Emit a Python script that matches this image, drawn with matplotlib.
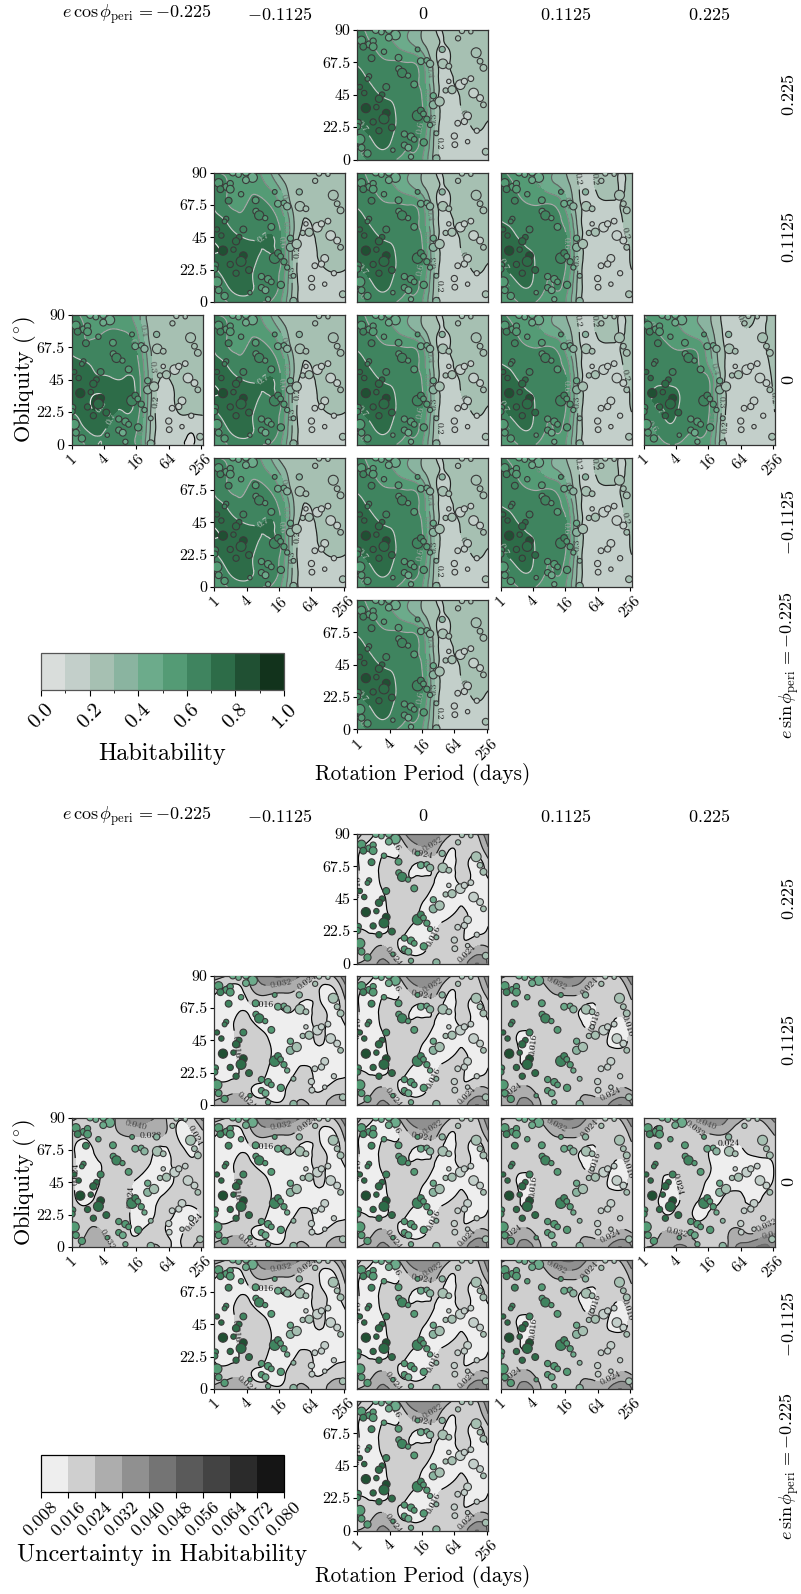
import numpy as np
import matplotlib
matplotlib.use('Agg')
import matplotlib.pyplot as plt
import matplotlib.tri as tri
from matplotlib.cm import ScalarMappable
from matplotlib.colors import BoundaryNorm, ListedColormap

plt.rcParams['font.family'] = ['cmr10', 'DejaVu Serif']
plt.rcParams['mathtext.fontset'] = 'cm'
plt.rcParams['axes.formatter.use_mathtext'] = True
plt.rcParams['axes.unicode_minus'] = False

W, H = 801, 1594

# grid the fields were read on: log2(period) across, obliquity down from 90
grid_x = [0, 0.81, 1.62, 2.43, 3.24, 4.05, 4.86, 5.67, 6.48, 7.29, 8.1]
grid_y = [90, 78.75, 67.5, 56.25, 45, 33.75, 22.5, 11.25, 0]

hab_center = [
    [.62, .58, .52, .46, .40, .29, .20, .22, .23, .23, .23],
    [.66, .61, .56, .50, .43, .33, .21, .205, .23, .23, .23],
    [.69, .66, .615, .61, .60, .50, .22, .195, .22, .23, .23],
    [.74, .69, .67, .65, .63, .55, .24, .185, .21, .23, .23],
    [.78, .74, .69, .66, .64, .58, .25, .17, .205, .23, .24],
    [.76, .78, .75, .69, .65, .60, .27, .165, .20, .22, .22],
    [.66, .74, .75, .69, .63, .58, .26, .16, .185, .205, .19],
    [.60, .68, .72, .66, .61, .55, .25, .16, .17, .18, .17],
    [.55, .62, .65, .60, .58, .50, .24, .16, .16, .17, .17],
]
hab_minus = [
    [.60, .59, .56, .52, .45, .27, .22, .225, .23, .23, .23],
    [.66, .60, .56, .58, .52, .40, .24, .225, .23, .24, .24],
    [.69, .605, .58, .63, .61, .50, .27, .22, .22, .23, .23],
    [.73, .69, .63, .65, .64, .58, .32, .195, .22, .23, .24],
    [.78, .74, .705, .68, .71, .62, .30, .17, .215, .22, .24],
    [.80, .78, .76, .74, .69, .64, .28, .16, .205, .21, .22],
    [.68, .76, .76, .70, .64, .60, .28, .16, .19, .205, .20],
    [.58, .70, .74, .70, .64, .58, .28, .16, .17, .17, .18],
    [.52, .60, .66, .62, .60, .52, .27, .16, .16, .17, .17],
]
hab_plus = [
    [.62, .57, .52, .46, .40, .30, .185, .195, .23, .20, .22],
    [.66, .61, .55, .51, .44, .36, .20, .185, .23, .20, .22],
    [.68, .63, .605, .60, .60, .45, .22, .17, .19, .198, .22],
    [.70, .67, .63, .62, .615, .55, .24, .16, .17, .19, .22],
    [.74, .72, .66, .64, .63, .60, .26, .155, .155, .18, .21],
    [.72, .76, .72, .67, .64, .60, .27, .155, .155, .17, .205],
    [.65, .74, .74, .66, .63, .59, .26, .15, .15, .16, .20],
    [.58, .66, .71, .64, .60, .55, .25, .15, .15, .15, .17],
    [.52, .58, .62, .58, .55, .50, .24, .14, .14, .15, .16],
]
hab_far_left = [
    [.62, .58, .52, .52, .52, .45, .25, .24, .24, .24, .24],
    [.66, .60, .58, .61, .60, .50, .27, .24, .24, .24, .24],
    [.68, .62, .64, .65, .64, .57, .30, .24, .24, .24, .24],
    [.73, .71, .68, .67, .66, .62, .33, .205, .23, .24, .24],
    [.76, .74, .72, .71, .71, .66, .34, .19, .22, .235, .24],
    [.76, .77, .81, .75, .72, .67, .33, .16, .21, .22, .22],
    [.70, .76, .79, .72, .70, .64, .31, .15, .195, .21, .205],
    [.58, .70, .72, .68, .65, .60, .30, .15, .17, .12, .18],
    [.52, .60, .70, .65, .62, .58, .28, .15, .13, .09, .17],
]
hab_far_right = [
    [.60, .56, .53, .47, .41, .32, .19, .19, .21, .195, .22],
    [.64, .60, .55, .50, .44, .35, .20, .18, .195, .195, .22],
    [.65, .64, .605, .59, .58, .42, .22, .17, .17, .19, .22],
    [.66, .66, .64, .62, .615, .47, .23, .16, .16, .18, .215],
    [.67, .68, .68, .65, .64, .60, .25, .15, .15, .17, .21],
    [.66, .72, .73, .68, .65, .61, .27, .15, .15, .165, .205],
    [.63, .68, .73, .66, .64, .60, .27, .15, .15, .16, .20],
    [.55, .62, .68, .64, .62, .57, .25, .14, .14, .15, .19],
    [.50, .56, .60, .58, .56, .52, .25, .14, .14, .15, .17],
]

# uncertainty, in thousandths
unc_center = [
    [28, 18, 14, 22, 36, 40, 36, 26, 18, 22, 40],
    [18, 13, 15, 15, 24, 28, 26, 16, 18, 18, 30],
    [17, 13, 18, 19, 17, 14, 18, 14, 18, 13, 20],
    [16.5, 13, 18, 21, 17, 19, 15, 13, 17, 14, 15],
    [16, 13, 15, 21, 21, 17, 13, 13, 15.5, 13, 15],
    [16, 13, 14, 20, 20, 14, 13, 15, 17, 14, 15],
    [16, 15.5, 15, 18, 15, 13, 16, 20, 17, 14, 17],
    [18, 21, 25, 17, 14, 14, 20, 20, 17, 24, 24],
    [24, 28, 34, 26, 19, 22, 21, 22, 26, 40, 30],
]
unc_minus = [
    [28, 24, 22, 30, 38, 42, 36, 30, 22, 24, 40],
    [17, 13, 14, 24, 27, 25, 24, 19, 16, 14, 28],
    [15.5, 13, 15, 15, 14, 16, 17, 14, 17.5, 13, 22],
    [15.5, 13, 19, 16.5, 13, 13, 13, 13, 18, 13, 16.5],
    [15.5, 13, 19, 22, 17, 13, 13, 13, 17, 13, 15],
    [15.5, 13, 18, 22, 18, 13, 13, 13, 14, 13, 15],
    [15.5, 13, 17, 22, 16, 13, 15, 18, 13, 13, 15],
    [19, 20, 21, 15, 14, 13, 20, 19, 15, 19, 20],
    [26, 30, 30, 22, 18, 17, 22, 26, 18, 30, 26],
]
unc_plus = [
    [26, 22, 20, 26, 36, 42, 38, 28, 20, 24, 40],
    [18, 17, 17, 18, 25, 27, 26, 20, 18, 17, 28],
    [18, 18, 18, 18, 18, 18, 16.5, 15, 18, 17, 22],
    [17.5, 18, 18, 18, 18, 18, 16.8, 15.5, 18, 14, 19],
    [17, 17, 14, 18, 19, 19, 18, 18, 16.5, 14, 18],
    [17, 18, 15, 19, 19, 19, 19, 19, 18, 18, 18.5],
    [17, 18, 17, 19, 18, 19, 19, 19, 19, 19, 19],
    [19, 24, 26, 20, 19, 19, 22, 21, 19, 24, 23],
    [28, 30, 36, 25, 20, 22, 24, 30, 30, 40, 32],
]
unc_far_left = [
    [34, 30, 28, 30, 38, 46, 42, 34, 26, 28, 44],
    [26, 26, 26, 29, 33, 34, 33, 33, 24, 22, 30],
    [26, 21, 26, 26, 26, 26, 26, 22, 27, 22, 27],
    [26, 21, 23, 26, 26, 26, 23.5, 21, 26, 26, 26],
    [26, 21, 23.5, 26, 26, 23, 21, 21, 25, 26, 26],
    [26, 22, 25, 26, 27, 21, 21, 25, 26, 26, 26],
    [27, 27, 27, 27, 26, 21, 22, 26, 23, 22, 25],
    [29, 31, 33, 28, 26, 23, 27, 25, 22, 26, 28],
    [30, 34, 38, 32, 28, 27, 32, 30, 22, 30, 34],
]
unc_far_right = [
    [30, 25, 26, 30, 40, 46, 44, 36, 32, 34, 44],
    [26, 23.8, 25, 26, 30, 32, 33, 28, 27, 27, 33],
    [26, 26, 26, 26, 26, 24, 21, 22, 25, 26, 26],
    [26, 26, 26, 26, 26, 24.5, 21, 21, 21, 21, 24.5],
    [26, 26, 22.5, 26, 26, 23, 21, 21, 21, 21, 25],
    [26, 24.5, 22, 25, 25, 22, 24, 26, 23, 24, 26],
    [26, 26, 24, 26, 23, 24.5, 26, 26, 26, 26, 26],
    [26, 30, 32, 30, 28, 26, 27, 34, 30, 34, 38],
    [32, 33, 38, 42, 33, 28, 26, 40, 44, 50, 44],
]

# simulated planets, same in every panel
pt_period = [1.14, 1.95, 1.49, 2.36, 1.95, .26, .73, .98, .98, .37,
             .88, 1.65, 2.55, 3.73, 3.93, 4.30, 4.50, 5.25, 5.29, 5.66,
             6.47, 6.23, 7.02, 7.35, 7.59, 7.80, 2.57, 2.77, 3.14, 3.52,
             .73, .63, .16, .43, 1.79, 1.53, 1.34, .53, 1.18, 1.79,
             1.65, .98, 2.14, 1.34, .06, .02, .16, .26, .63, 2.20,
             2.91, 3.32, 3.52, 2.91, 3.16, 4.11, 3.32, 3.73, 3.93, 4.09,
             4.30, 4.50, 4.89, 4.70, 4.70, 5.09, 5.46, 5.86, 5.66, 6.37,
             6.62, 7.02, 7.19, 7.59, 7.80, 6.82, 6.62, 6.21, 7.39, 6.00,
             6.03, 6.82, 4.89, 7.94]
pt_obliq = [90, 90, 88.6, 86.5, 84.7, 82.8, 80, 82.3, 78.4, 78.4,
            70.4, 74.9, 70.7, 76.5, 68.3, 68.8, 66.5, 76.5, 66.5, 64.8,
            89.3, 84.2, 88.8, 74.2, 68.3, 63.7, 63, 60.2, 58.3, 52.2,
            57.8, 56, 50.4, 46.2, 50.4, 45, 42.2, 35.7, 36.4, 32.2,
            28.2, 26.1, 22.2, 20, 25.7, 22.9, 14, 8.2, 4.2, 6.5,
            17.7, 15.9, 14, 10, 8.2, 11.9, 1.9, 30.5, 34, 31.7,
            28, 24, 18.2, 44.3, 38, 40.3, 48, 48.5, 54.3, 52,
            54.3, 56.2, 46.2, 42.7, 38, 30.3, 26.4, 25.2, 20, 16.3,
            10.3, 12.4, .7, 5.4]
pt_hab = [.45, .45, .45, .40, .45, .55, .55, .50, .55, .60,
          .60, .50, .50, .50, .45, .40, .35, .30, .20, .20,
          .20, .25, .20, .22, .22, .22, .55, .60, .55, .55,
          .65, .65, .75, .70, .65, .70, .70, .80, .75, .80,
          .75, .70, .72, .70, .65, .65, .50, .50, .50, .50,
          .55, .55, .55, .50, .45, .50, .45, .60, .60, .55,
          .50, .45, .30, .40, .30, .20, .20, .20, .18, .15,
          .15, .15, .15, .15, .20, .15, .15, .15, .15, .15,
          .15, .15, .30, .20]
pt_area = [24, 24, 17, 48, 24, 37, 24, 20, 31, 24,
           24, 15, 24, 12, 24, 17, 27, 20, 48, 17,
           14, 14, 10, 51, 17, 24, 20, 44, 14, 24,
           14, 12, 14, 15, 24, 17, 27, 44, 15, 31,
           51, 20, 24, 20, 20, 20, 51, 24, 27, 10,
           20, 27, 17, 20, 24, 27, 14, 58, 24, 17,
           20, 14, 12, 20, 34, 44, 14, 34, 10, 48,
           20, 17, 48, 24, 17, 31, 20, 17, 14, 20,
           17, 10, 27, 24]

column_labels = [r'$e\,\cos\phi_{\rm peri}\,=-0.225$', r'$-0.1125$', r'$0$', r'$0.1125$', r'$0.225$']
row_labels = [r'$0.225$', r'$0.1125$', r'$0$', r'$-0.1125$', r'$e\,\sin\phi_{\rm peri}\,=-0.225$']
x_tick_pos = [0, 2, 4, 6, 8]
x_tick_labels = ['1', '4', '16', '64', '256']
y_tick_pos = [0, 22.5, 45, 67.5, 90]
y_tick_labels = ['0', '22.5', '45', '67.5', '90']

hab_levels = [0, .1, .2, .3, .4, .5, .6, .7, .8, .9, 1.0]
hab_colors = ['#d9dddb', '#c3cfca', '#a6c0b2', '#8ab4a0', '#6cab8b', '#549b75',
              '#3f845f', '#2d6c48', '#205033', '#12331c']
unc_levels = [.008, .016, .024, .032, .040, .048, .056, .064, .072, .080]
unc_colors = ['#eeeeee', '#cfcfcf', '#adadad', '#909090', '#747474', '#5a5a5a',
              '#434343', '#2b2b2b', '#151515']

# (column, row) -> which field of each family
panels = [(2, 0, 'c'), (1, 1, 'm'), (2, 1, 'c'), (3, 1, 'p'),
          (0, 2, 'l'), (1, 2, 'm'), (2, 2, 'c'), (3, 2, 'p'), (4, 2, 'r'),
          (1, 3, 'm'), (2, 3, 'c'), (3, 3, 'p'), (2, 4, 'c')]
bottom_row_of_col = {0: 2, 1: 3, 2: 4, 3: 3, 4: 2}
left_col_of_row = {0: 2, 1: 1, 2: 0, 3: 1, 4: 2}

col_left = [71.7, 214.4, 357.3, 500.6, 643.7]
top_rows = [30, 172.5, 315, 457.5, 600]
low_rows = [834, 975.5, 1117.5, 1259.5, 1401]
PW, PH = 131, 129.5

gx, gy = np.meshgrid(grid_x, grid_y)
triang = tri.Triangulation(gx.ravel(), gy.ravel())
refiner = tri.UniformTriRefiner(triang)


def refine(values):
    return refiner.refine_field(np.asarray(values, dtype=float).ravel(), subdiv=3)


hab_fields = {k: refine(v) for k, v in zip('cmplr', [hab_center, hab_minus, hab_plus, hab_far_left, hab_far_right])}
unc_fields = {k: refine(np.asarray(v) / 1000.0) for k, v in zip('cmplr', [unc_center, unc_minus, unc_plus, unc_far_left, unc_far_right])}


def px_rect(left, top, w, h):
    return [left / W, 1 - (top + h) / H, w / W, h / H]


def ftext(x, y, s, **kw):
    fig.text(x / W, 1 - y / H, s, ha='center', va='center', **kw)


def style_panel(ax, col, row):
    ax.set_xlim(0, 8.1)
    ax.set_ylim(0, 90)
    ax.set_xticks(x_tick_pos)
    # the lower rows leave out the 90 so it does not run into the 256 above
    n_y = 4 if row >= 3 else 5
    ax.set_yticks(y_tick_pos[:n_y])
    if row == bottom_row_of_col[col]:
        ax.set_xticklabels(x_tick_labels, rotation=45, fontsize=11.5)
    else:
        ax.set_xticks([])
    if col == left_col_of_row[row]:
        ax.set_yticklabels(y_tick_labels[:n_y], fontsize=11.5)
    else:
        ax.set_yticks([])
    ax.tick_params(length=3, width=0.8, pad=2)
    for spine in ax.spines.values():
        spine.set_linewidth(0.9)
        spine.set_color('#333333')


fig = plt.figure(figsize=(W / 100, H / 100), dpi=100)

point_cmap = ListedColormap(hab_colors)
point_norm = BoundaryNorm(hab_levels, len(hab_colors))

# habitability block
for col, row, key in panels:
    ax = fig.add_axes(px_rect(col_left[col], top_rows[row], PW, PH))
    t, z = hab_fields[key]
    z = np.clip(z, 0.001, 0.999)
    ax.tricontourf(t, z, levels=hab_levels, colors=hab_colors)
    cs = ax.tricontour(t, z, levels=hab_levels[1:9], cmap='gray', vmin=0.1, vmax=0.85, linewidths=0.85)
    ax.clabel(cs, inline=True, fontsize=7, fmt='%.1f')
    ax.scatter(pt_period, pt_obliq, s=pt_area, c=pt_hab, cmap=point_cmap, norm=point_norm,
               edgecolors='#3a3a3a', linewidths=0.8, zorder=4)
    style_panel(ax, col, row)

# uncertainty block
for col, row, key in panels:
    ax = fig.add_axes(px_rect(col_left[col], low_rows[row], PW, PH))
    t, z = unc_fields[key]
    # the two outer panels start their shading one level higher
    start = 1 if key in 'lr' else 0
    lev = unc_levels[start:]
    z = np.clip(z, lev[0] + 0.0005, 0.0795)
    ax.tricontourf(t, z, levels=lev, colors=unc_colors[:len(lev) - 1])
    cs = ax.tricontour(t, z, levels=lev[1:], cmap='gray', vmin=lev[1], vmax=0.08, linewidths=0.85)
    ax.clabel(cs, inline=True, fontsize=7, fmt='%.3f')
    ax.scatter(pt_period, pt_obliq, s=pt_area, c=pt_hab, cmap=point_cmap, norm=point_norm,
               edgecolors='#3a3a3a', linewidths=0.8, zorder=4)
    style_panel(ax, col, row)

# labels
for rows, title_y, xlabel_y in [(top_rows, 14, 774), (low_rows, 816, 1577)]:
    for c, lab in enumerate(column_labels):
        ftext(col_left[c] + PW / 2, title_y, lab, fontsize=13)
    for r, lab in enumerate(row_labels):
        ftext(789, rows[r] + PH / 2, lab, fontsize=13, rotation=90)
    ftext(423, xlabel_y, 'Rotation Period (days)', fontsize=15.3)
    ftext(24, rows[2] + PH / 2, r'Obliquity ($^{\circ}$)', fontsize=16, rotation=90)

# colourbars
cax = fig.add_axes(px_rect(41, 653, 243, 37))
cb = fig.colorbar(ScalarMappable(norm=BoundaryNorm(hab_levels, len(hab_colors)), cmap=ListedColormap(hab_colors)),
                  cax=cax, orientation='horizontal', ticks=hab_levels[::2])
cb.ax.set_xticklabels(['0.0', '0.2', '0.4', '0.6', '0.8', '1.0'], rotation=45, fontsize=15)
cb.ax.tick_params(length=4, width=0.8)
cb.outline.set_linewidth(0.9)
cb.outline.set_edgecolor('#555555')
ftext(162, 754, 'Habitability', fontsize=17.5)

cax = fig.add_axes(px_rect(41, 1455, 243, 37))
cb = fig.colorbar(ScalarMappable(norm=BoundaryNorm(unc_levels, len(unc_colors)), cmap=ListedColormap(unc_colors)),
                  cax=cax, orientation='horizontal', ticks=unc_levels)
cb.ax.set_xticklabels(['%.3f' % v for v in unc_levels], rotation=45, fontsize=13)
cb.ax.tick_params(length=4, width=0.8, pad=1)
cb.outline.set_linewidth(0.9)
ftext(162, 1555, 'Uncertainty in Habitability', fontsize=17.4)

fig.savefig('out.png', dpi=100)
